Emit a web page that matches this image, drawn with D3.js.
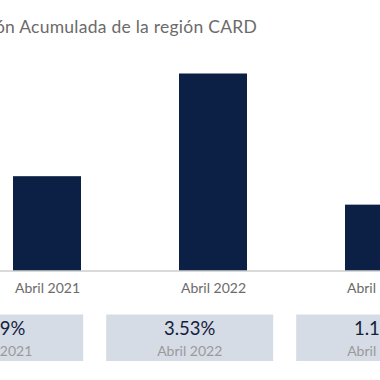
<!DOCTYPE html>
<html lang="es">
<head>
<meta charset="UTF-8">
<title>Inflación Acumulada de la región CARD</title>
<script src="https://d3js.org/d3.v7.min.js"></script>
<style>
  body { margin: 0; background: #fff; overflow: hidden; }
  svg { display: block; font-family: Lato, "Open Sans", sans-serif; }
</style>
</head>
<body>
<div id="chart"></div>
<script>
// data
var periods = ["Abril 2021", "Abril 2022", "Abril 2023"];
var inflation = [1.69, 3.53, 1.18];
var cardLabels = ["1.69%", "3.53%", "1.18%"];

var width = 380, height = 380;

var svg = d3.select("#chart")
  .append("svg")
    .attr("width", width)
    .attr("height", height);

// title (chart is wider than the window, left part falls off)
svg.append("text")
    .attr("x", 257)
    .attr("y", 33)
    .attr("text-anchor", "end")
    .style("font-size", "17.5px")
    .style("letter-spacing", "0.25px")
    .style("fill", "#6b6b6b")
    .text("Inflación Acumulada de la región CARD");

var x = d3.scalePoint()
    .domain(periods)
    .range([47, 379]);

var y = d3.scaleLinear()
    .domain([0, 3.53])
    .range([270.5, 73.5]);

var barW = 68;

svg.selectAll("rect.bar")
  .data(inflation)
  .enter()
  .append("rect")
    .attr("class", "bar")
    .attr("x", function(d, i) { return x(periods[i]) - barW / 2; })
    .attr("y", function(d) { return y(d); })
    .attr("width", barW)
    .attr("height", function(d) { return y(0) - y(d); })
    .style("fill", "#0c1f44");

// baseline + labels
var axis = svg.append("g")
    .attr("transform", "translate(0," + y(0) + ")")
    .call(d3.axisBottom(x).tickSize(0).tickPadding(13));
axis.select(".domain").remove();
axis.append("line")
    .attr("x1", 0).attr("x2", width)
    .attr("y1", 0.5).attr("y2", 0.5)
    .style("stroke", "#b5b5b5");
axis.selectAll("text")
    .style("font-family", "Lato, 'Open Sans', sans-serif")
    .style("font-size", "14px")
    .style("fill", "#6b6b6b");

// cards below
var cx = d3.scalePoint()
    .domain(periods)
    .range([-0.3, 379.7]);
var cardW = 167, cardTop = 314.5, cardH = 46.5;

var cards = svg.selectAll("g.card")
  .data(periods)
  .enter()
  .append("g")
    .attr("class", "card")
    .attr("transform", function(d) { return "translate(" + cx(d) + ",0)"; });

cards.append("rect")
    .attr("x", -cardW / 2)
    .attr("y", cardTop)
    .attr("width", cardW)
    .attr("height", cardH)
    .style("fill", "#d6dce5");

cards.append("text")
    .attr("y", 335)
    .attr("text-anchor", "middle")
    .style("font-size", "18.5px")
    .style("fill", "#14213d")
    .text(function(d, i) { return cardLabels[i]; });

cards.append("text")
    .attr("y", 355.5)
    .attr("text-anchor", "middle")
    .style("font-size", "14px")
    .style("fill", "#9a9a9a")
    .text(function(d) { return d; });
</script>
</body>
</html>
